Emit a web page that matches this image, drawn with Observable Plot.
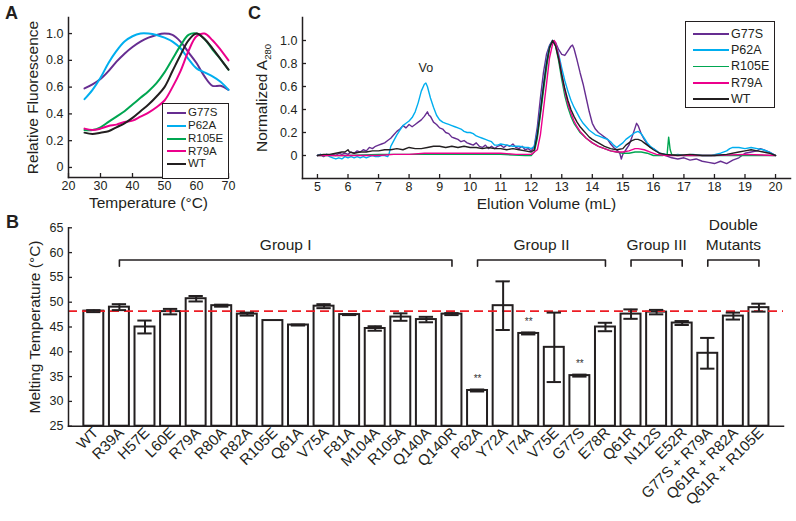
<!DOCTYPE html>
<html><head><meta charset="utf-8">
<script src="https://cdn.jsdelivr.net/npm/d3@7"></script>
<script src="https://cdn.jsdelivr.net/npm/@observablehq/plot@0.6"></script>
<style>
body{margin:0;background:#fff;}
#fig{position:relative;width:796px;height:521px;font-family:"Liberation Sans",Arial,Helvetica,sans-serif;color:#231f20;overflow:hidden;background:#fff;}
.panel-letter{position:absolute;font-weight:bold;font-size:18px;line-height:18px;}
.legend{position:absolute;border:1.5px solid #231f20;background:#fff;box-sizing:border-box;}
.legend .sw{position:absolute;}
.legend .tx{position:absolute;line-height:1;white-space:nowrap;}
</style>
</head><body>
<div id="fig"></div>
<script>
// ---------------- Panel A data (thermal shift curves) ----------------
const seriesNames = ["G77S","P62A","R105E","R79A","WT"];
const seriesColors = ["#662d91","#00aeef","#00a651","#ec008c","#231f20"];
const tempA = [25,27.5,30,32.5,35,37.5,40,42.5,45,47.5,50,52.5,55,57.5,60,62.5,65,67.5,70];
const fluorG77S = [0.59,0.62,0.66,0.72,0.79,0.85,0.90,0.94,0.97,0.99,1.00,0.99,0.94,0.86,0.78,0.68,0.61,0.61,0.58];
const fluorP62A = [0.51,0.58,0.67,0.78,0.87,0.94,0.98,1.00,1.00,0.99,0.97,0.94,0.89,0.81,0.74,0.71,0.68,0.64,0.58];
const fluorR105E = [0.28,0.28,0.30,0.34,0.38,0.42,0.47,0.52,0.57,0.63,0.71,0.81,0.91,0.99,1.00,0.96,0.88,0.81,0.73];
const fluorR79A = [0.29,0.28,0.29,0.31,0.32,0.34,0.35,0.38,0.41,0.45,0.50,0.60,0.72,0.87,0.98,1.00,0.95,0.88,0.80];
const fluorWT = [0.26,0.25,0.26,0.27,0.30,0.33,0.37,0.42,0.47,0.53,0.60,0.72,0.84,0.95,1.00,0.96,0.89,0.81,0.73];
const fluorA = [fluorG77S,fluorP62A,fluorR105E,fluorR79A,fluorWT];
const xTicksA = [20,30,40,50,60,70];
const yTicksA = [0,0.2,0.4,0.6,0.8,1.0];

// ---------------- Panel C data (size exclusion, [mL, normalized A280]) ----------------
const secG77S = [[5.0,0.00],[5.1,0.01],[5.2,-0.01],[5.3,0.01],[5.4,0.00],[5.5,0.01],[5.6,0.00],[5.7,0.02],[5.8,0.01],[5.9,0.02],[6.0,0.01],[6.1,0.03],[6.2,0.02],[6.3,0.04],[6.4,0.03],[6.5,0.05],[6.6,0.04],[6.7,0.07],[6.8,0.06],[6.9,0.08],[7.0,0.09],[7.1,0.10],[7.2,0.11],[7.3,0.13],[7.4,0.15],[7.5,0.18],[7.6,0.21],[7.7,0.23],[7.8,0.26],[7.9,0.24],[8.0,0.27],[8.1,0.25],[8.2,0.27],[8.3,0.29],[8.4,0.31],[8.5,0.34],[8.6,0.38],[8.65,0.35],[8.7,0.34],[8.8,0.29],[8.9,0.27],[9.0,0.24],[9.1,0.23],[9.2,0.20],[9.3,0.19],[9.4,0.16],[9.5,0.15],[9.6,0.14],[9.7,0.12],[9.8,0.13],[9.9,0.11],[10.0,0.10],[10.1,0.09],[10.2,0.11],[10.3,0.08],[10.4,0.07],[10.5,0.09],[10.6,0.06],[10.7,0.08],[10.8,0.06],[10.9,0.08],[11.0,0.09],[11.1,0.07],[11.2,0.09],[11.3,0.08],[11.4,0.10],[11.5,0.07],[11.6,0.06],[11.7,0.08],[11.8,0.05],[11.9,0.06],[12.0,0.04],[12.1,0.08],[12.2,0.25],[12.3,0.50],[12.4,0.72],[12.5,0.88],[12.6,0.96],[12.7,1.00],[12.8,0.98],[12.9,0.92],[13.0,0.88],[13.1,0.87],[13.2,0.91],[13.3,0.95],[13.35,0.96],[13.4,0.93],[13.5,0.83],[13.6,0.72],[13.7,0.62],[13.8,0.50],[13.9,0.38],[14.0,0.28],[14.1,0.23],[14.2,0.20],[14.3,0.18],[14.4,0.16],[14.5,0.14],[14.6,0.10],[14.7,0.07],[14.8,0.05],[14.9,0.02],[14.95,-0.03],[15.0,0.01],[15.1,0.05],[15.2,0.09],[15.3,0.16],[15.4,0.24],[15.45,0.28],[15.5,0.26],[15.6,0.19],[15.7,0.14],[15.8,0.10],[15.9,0.07],[16.0,0.06],[16.1,0.04],[16.2,0.02],[16.4,0.00],[16.6,-0.02],[16.8,-0.03],[17.0,-0.02],[17.2,-0.04],[17.4,-0.03],[17.6,-0.05],[17.8,-0.06],[18.0,-0.07],[18.2,-0.05],[18.4,-0.07],[18.6,-0.04],[18.8,-0.02],[19.0,0.02],[19.2,0.03],[19.4,0.04],[19.5,0.06],[19.6,0.05],[19.8,0.03],[20.0,0.00]];
const secP62A = [[5.0,0.00],[5.1,0.01],[5.2,0.00],[5.3,0.01],[5.4,-0.01],[5.5,-0.02],[5.6,-0.03],[5.7,-0.02],[5.8,-0.03],[5.9,-0.01],[6.0,-0.02],[6.1,-0.01],[6.2,-0.02],[6.3,-0.01],[6.4,-0.02],[6.5,-0.01],[6.6,-0.02],[6.7,-0.01],[6.8,0.00],[6.9,-0.01],[7.0,-0.01],[7.1,0.00],[7.2,0.00],[7.3,-0.01],[7.35,0.02],[7.4,0.08],[7.5,0.13],[7.6,0.18],[7.7,0.22],[7.8,0.26],[7.9,0.28],[8.0,0.30],[8.1,0.33],[8.2,0.38],[8.3,0.46],[8.4,0.56],[8.5,0.62],[8.55,0.63],[8.6,0.60],[8.7,0.50],[8.8,0.42],[8.9,0.35],[9.0,0.31],[9.1,0.29],[9.2,0.28],[9.3,0.27],[9.4,0.26],[9.5,0.25],[9.6,0.24],[9.7,0.23],[9.8,0.21],[9.9,0.20],[10.0,0.20],[10.1,0.19],[10.2,0.17],[10.3,0.16],[10.4,0.15],[10.5,0.14],[10.6,0.13],[10.7,0.12],[10.8,0.09],[10.9,0.09],[11.0,0.10],[11.2,0.09],[11.4,0.08],[11.6,0.08],[11.8,0.07],[11.9,0.07],[12.0,0.06],[12.1,0.08],[12.2,0.20],[12.3,0.40],[12.4,0.62],[12.5,0.82],[12.6,0.95],[12.7,1.00],[12.8,0.97],[12.9,0.88],[13.0,0.76],[13.1,0.65],[13.2,0.56],[13.3,0.48],[13.4,0.42],[13.5,0.37],[13.6,0.32],[13.7,0.28],[13.8,0.25],[13.9,0.22],[14.0,0.20],[14.1,0.18],[14.2,0.17],[14.3,0.16],[14.4,0.15],[14.5,0.14],[14.6,0.12],[14.7,0.09],[14.8,0.07],[14.9,0.09],[15.0,0.11],[15.1,0.14],[15.2,0.16],[15.3,0.18],[15.4,0.20],[15.5,0.21],[15.6,0.19],[15.7,0.15],[15.8,0.11],[15.9,0.08],[16.0,0.06],[16.1,0.04],[16.2,0.02],[16.4,0.01],[16.6,0.00],[16.8,0.01],[17.0,0.00],[17.3,0.01],[17.6,0.00],[17.9,0.00],[18.2,0.02],[18.4,0.04],[18.5,0.06],[18.6,0.07],[18.8,0.07],[19.0,0.06],[19.2,0.07],[19.4,0.06],[19.6,0.05],[19.8,0.03],[20.0,0.00]];
const secR105E = [[5.0,0.00],[6.0,0.00],[7.0,0.01],[8.0,0.01],[9.0,0.01],[10.0,0.01],[11.0,0.01],[11.8,0.00],[12.0,0.00],[12.1,0.03],[12.2,0.15],[12.3,0.35],[12.4,0.56],[12.5,0.76],[12.6,0.93],[12.7,1.00],[12.8,0.95],[12.9,0.82],[13.0,0.66],[13.1,0.52],[13.2,0.42],[13.3,0.34],[13.4,0.28],[13.5,0.24],[13.6,0.20],[13.8,0.15],[14.0,0.11],[14.2,0.08],[14.4,0.06],[14.6,0.04],[14.8,0.03],[15.0,0.02],[15.2,0.02],[15.4,0.03],[15.6,0.03],[15.8,0.02],[16.0,0.00],[16.3,0.00],[16.45,0.01],[16.5,0.16],[16.55,0.05],[16.6,0.01],[17.0,0.00],[18.0,0.00],[19.0,0.00],[20.0,0.00]];
const secR79A = [[5.0,0.00],[6.0,0.00],[7.0,0.00],[7.5,0.01],[8.0,0.01],[8.5,0.02],[9.0,0.02],[9.5,0.02],[10.0,0.02],[10.5,0.02],[11.0,0.02],[11.5,0.01],[12.0,0.01],[12.2,0.05],[12.3,0.18],[12.4,0.40],[12.5,0.62],[12.6,0.85],[12.7,0.97],[12.75,1.00],[12.8,0.98],[12.9,0.86],[13.0,0.70],[13.1,0.56],[13.2,0.45],[13.3,0.37],[13.4,0.30],[13.5,0.25],[13.6,0.21],[13.7,0.18],[13.8,0.15],[14.0,0.11],[14.2,0.08],[14.4,0.06],[14.6,0.04],[14.8,0.03],[15.0,0.03],[15.2,0.04],[15.4,0.06],[15.5,0.06],[15.7,0.05],[15.9,0.03],[16.1,0.01],[16.4,0.00],[17.0,0.00],[18.0,0.00],[19.0,0.01],[20.0,0.00]];
const secWT = [[5.0,0.00],[5.2,0.01],[5.4,0.01],[5.6,0.02],[5.8,0.03],[5.9,0.03],[6.0,0.05],[6.05,0.03],[6.2,0.02],[6.4,0.03],[6.6,0.03],[6.8,0.04],[7.0,0.04],[7.2,0.05],[7.4,0.05],[7.6,0.06],[7.8,0.05],[8.0,0.07],[8.2,0.06],[8.4,0.06],[8.6,0.07],[8.8,0.08],[9.0,0.08],[9.2,0.07],[9.4,0.08],[9.6,0.07],[9.8,0.08],[10.0,0.07],[10.2,0.07],[10.4,0.06],[10.6,0.07],[10.8,0.06],[11.0,0.06],[11.2,0.05],[11.4,0.06],[11.6,0.05],[11.8,0.04],[12.0,0.03],[12.1,0.05],[12.2,0.18],[12.3,0.38],[12.4,0.60],[12.5,0.80],[12.6,0.94],[12.7,1.00],[12.8,0.95],[12.9,0.84],[13.0,0.70],[13.1,0.58],[13.2,0.48],[13.3,0.40],[13.4,0.34],[13.5,0.29],[13.6,0.25],[13.7,0.22],[13.8,0.19],[13.9,0.16],[14.0,0.14],[14.2,0.11],[14.4,0.08],[14.6,0.06],[14.8,0.05],[15.0,0.06],[15.1,0.09],[15.2,0.11],[15.3,0.13],[15.4,0.14],[15.5,0.14],[15.6,0.13],[15.7,0.11],[15.8,0.09],[16.0,0.05],[16.2,0.02],[16.4,0.01],[16.8,0.00],[17.2,0.01],[17.6,0.00],[18.0,0.00],[18.4,0.01],[18.8,0.03],[19.0,0.04],[19.2,0.05],[19.4,0.04],[19.6,0.03],[19.8,0.02],[20.0,0.00]];
const secC = [secG77S,secP62A,secR105E,secR79A,secWT];
const xTicksC = [5,6,7,8,9,10,11,12,13,14,15,16,17,18,19,20];
const yTicksC = [0,0.2,0.4,0.6,0.8,1.0];
const voidLabel = "Vo";

// ---------------- Panel B data (melting temperatures) ----------------
const mutants = ["WT","R39A","H57E","L60E","R79A","R80A","R82A","R105E","Q61A","V75A","F81A","M104A","R105A","Q140A","Q140R","P62A","Y72A","I74A","V75E","G77S","E78R","Q61R","N112S","E52R","G77S + R79A","Q61R + R82A","Q61R + R105E"];
const tm = [48.2,49.0,45.0,48.1,50.7,49.3,47.6,46.3,45.4,49.2,47.5,44.7,47.0,46.5,47.6,32.2,49.3,43.7,40.9,35.2,45.0,47.6,48.0,45.8,39.7,47.2,48.9];
const tmErr = [0.2,0.6,1.3,0.55,0.55,0.2,0.3,0,0.1,0.4,0.1,0.45,0.75,0.55,0.2,0.2,4.9,0.2,7.0,0.2,0.85,0.95,0.45,0.4,3.1,0.7,0.8];
const significant = ["P62A","I74A","G77S"];
const groupLabels = ["Group I","Group II","Group III","Double\nMutants"];
const groupStart = ["R39A","P62A","Q61R","G77S + R79A"];
const groupEnd = ["Q140R","E78R","E52R","Q61R + R105E"];
const yTicksB = [25,30,35,40,45,50,55,60,65];

// ---------------- rendering ----------------
const fig = document.getElementById("fig");
const ink = "#231f20";
const font = '"Liberation Sans", Arial, Helvetica, sans-serif';
const baseStyle = {background: "transparent", fontFamily: font, color: ink, overflow: "visible"};
const fmt1 = d => d === 0 ? "0" : d.toFixed(1);
function place(el, left, top) {
  el.style.position = "absolute";
  el.style.left = left + "px";
  el.style.top = top + "px";
  fig.appendChild(el);
}
function letter(t, left, top) {
  const d = document.createElement("div");
  d.className = "panel-letter"; d.textContent = t;
  d.style.left = left + "px"; d.style.top = top + "px";
  fig.appendChild(d);
}
function legend(left, top, w, h, first, step, swX, swLen, swW, txX, fs) {
  const box = document.createElement("div");
  box.className = "legend";
  Object.assign(box.style, {left: left + "px", top: top + "px", width: w + "px", height: h + "px"});
  seriesNames.forEach((name, i) => {
    const cy = first + i * step;
    const sw = document.createElement("div");
    sw.className = "sw";
    Object.assign(sw.style, {left: swX + "px", top: (cy - swW / 2) + "px", width: swLen + "px", height: swW + "px", background: seriesColors[i]});
    const tx = document.createElement("div");
    tx.className = "tx"; tx.textContent = name;
    Object.assign(tx.style, {left: txX + "px", top: (cy - fs / 2) + "px", fontSize: fs + "px"});
    box.appendChild(sw); box.appendChild(tx);
  });
  fig.appendChild(box);
}
// inward tick marks (labels are drawn by separate text marks)
const ticksY = t => Plot.axisY({ticks: t, tickSize: -4, tickFormat: () => "", label: null, strokeWidth: 1.3});
const ticksX = t => Plot.axisX({ticks: t, tickSize: -4, tickFormat: () => "", label: null, strokeWidth: 1.3});
const labelsY = (t, f, fs) => Plot.text(t, {y: d => d, frameAnchor: "left", text: f, textAnchor: "end", dx: -5, fontSize: fs, fill: ink});
const labelsX = (t, f, fs) => Plot.text(t, {x: d => d, frameAnchor: "bottom", text: f, lineAnchor: "top", dy: 4, fontSize: fs, fill: ink});

// Panel A
const dataA = seriesNames.flatMap((name, k) => tempA.map((t, j) => ({name, t, v: fluorA[k][j]})));
const plotA = Plot.plot({
  width: 240, height: 215, marginLeft: 68, marginRight: 12, marginTop: 17, marginBottom: 38,
  style: baseStyle,
  x: {domain: [20, 70]},
  y: {domain: [-0.075, 1.12]},
  color: {domain: seriesNames, range: seriesColors},
  marks: [
    Plot.frame({anchor: "left", stroke: ink, strokeWidth: 1.5}),
    Plot.frame({anchor: "bottom", stroke: ink, strokeWidth: 1.5}),
    ticksY(yTicksA), ticksX(xTicksA),
    labelsY(yTicksA, fmt1, 12.5), labelsX(xTicksA, d => String(d), 12.5),
    Plot.line(dataA, {x: "t", y: "v", stroke: "name", strokeWidth: 2, curve: "catmull-rom"}),
    Plot.text(["Temperature (°C)"], {frameAnchor: "bottom", dy: 30, fontSize: 15.5, fill: ink}),
    Plot.text(["Relative Fluorescence"], {frameAnchor: "left", textAnchor: "middle", dx: -35, rotate: -90, fontSize: 15.5, fill: ink})
  ]
});
place(plotA, 0, 0);

// Panel C
const dataC = seriesNames.flatMap((name, k) => secC[k].map(([ml, v]) => ({name, ml, v})));
const voPeak = secP62A.filter(([ml]) => ml > 7 && ml < 10).reduce((a, b) => (b[1] > a[1] ? b : a));
const plotC = Plot.plot({
  width: 556, height: 215, marginLeft: 62, marginRight: 6, marginTop: 17, marginBottom: 37,
  style: baseStyle,
  x: {domain: [4.51, 20.49]},
  y: {domain: [-0.2, 1.2]},
  color: {domain: seriesNames, range: seriesColors},
  marks: [
    Plot.frame({anchor: "left", stroke: ink, strokeWidth: 1.5}),
    Plot.frame({anchor: "bottom", stroke: ink, strokeWidth: 1.5}),
    ticksY(yTicksC), ticksX(xTicksC),
    labelsY(yTicksC, fmt1, 12.5), labelsX(xTicksC, d => String(d), 12.5),
    Plot.line(dataC, {x: "ml", y: "v", stroke: "name", z: "name", strokeWidth: 1.4}),
    Plot.text([voidLabel], {x: voPeak[0], y: voPeak[1], dy: -15, fontSize: 12.5, fill: ink}),
    Plot.text(["Elution Volume (mL)"], {frameAnchor: "bottom", dy: 30, fontSize: 15.5, fill: ink}),
    Plot.text(["Normalized A"], {frameAnchor: "left", textAnchor: "middle", dx: -40, rotate: -90, fontSize: 15.5, fill: ink})
  ]
});
plotC.querySelectorAll("text").forEach(t => {
  if (t.textContent === "Normalized A") {
    const ts = document.createElementNS("http://www.w3.org/2000/svg", "tspan");
    ts.textContent = "280"; ts.setAttribute("font-size", "9.5"); ts.setAttribute("dy", "4");
    t.appendChild(ts);
  }
});
place(plotC, 240, 0);

// Panel B
const idx = name => mutants.indexOf(name);
const bars = mutants.map((name, i) => ({name, i, v: tm[i], e: tmErr[i]}));
const errs = bars.filter(d => d.e > 0);
const stars = bars.filter(d => significant.includes(d.name));
const groups = groupLabels.map((label, k) => ({label, s: idx(groupStart[k]), e: idx(groupEnd[k])}));
const bracketTop = 58.5, bracketLeg = 57.25;
const bracketPts = groups.flatMap(g => [
  {g: g.label, x: g.s, y: bracketLeg}, {g: g.label, x: g.s, y: bracketTop},
  {g: g.label, x: g.e, y: bracketTop}, {g: g.label, x: g.e, y: bracketLeg}]);
const halfBar = 0.39, halfCap = 0.28;
const plotB = Plot.plot({
  width: 796, height: 311, marginLeft: 68, marginRight: 13, marginTop: 17.3, marginBottom: 95.3,
  style: baseStyle,
  x: {domain: [-0.99, 26.96], axis: null},
  y: {domain: [25, 65]},
  marks: [
    Plot.rectY(bars, {x1: d => d.i - halfBar, x2: d => d.i + halfBar, y1: yTicksB[0], y2: "v", fill: "white", stroke: ink, strokeWidth: 2}),
    Plot.ruleY([tm[0]], {stroke: "#ed1c24", strokeWidth: 1.8, strokeDasharray: "9,5"}),
    Plot.ruleX(errs, {x: "i", y1: d => d.v - d.e, y2: d => d.v + d.e, stroke: ink, strokeWidth: 2}),
    Plot.ruleY(errs, {y: d => d.v + d.e, x1: d => d.i - halfCap, x2: d => d.i + halfCap, stroke: ink, strokeWidth: 2}),
    Plot.ruleY(errs, {y: d => d.v - d.e, x1: d => d.i - halfCap, x2: d => d.i + halfCap, stroke: ink, strokeWidth: 2}),
    Plot.text(stars, {x: "i", y: "v", text: () => "**", dy: -12, fontSize: 10, fill: "#333"}),
    Plot.line(bracketPts, {x: "x", y: "y", z: "g", stroke: ink, strokeWidth: 1.6}),
    Plot.text(groups, {x: d => (d.s + d.e) / 2, y: 60.6, text: "label", lineAnchor: "bottom", lineHeight: 1.25, fontSize: 15.5, fill: ink}),
    Plot.frame({anchor: "left", stroke: ink, strokeWidth: 1.5}),
    Plot.frame({anchor: "bottom", stroke: ink, strokeWidth: 1.5}),
    ticksY(yTicksB),
    labelsY(yTicksB, d => String(d), 12.5),
    Plot.text(bars, {x: "i", frameAnchor: "bottom", text: "name", rotate: -45, textAnchor: "end", lineAnchor: "middle", dx: 2, dy: 4, fontSize: 15, fill: ink}),
    Plot.text(["Melting Temperature (°C)"], {frameAnchor: "left", textAnchor: "middle", dx: -33, rotate: -90, fontSize: 15.5, fill: ink})
  ]
});
place(plotB, 0, 210);

// legends and panel letters
legend(162, 103, 67, 76, 9, 12.75, 4, 19, 2, 25, 11.5);
legend(685, 21, 90, 87, 12, 16.25, 7, 36, 1.6, 45, 12.5);
letter("A", 5, 4);
letter("C", 248, 4);
letter("B", 6, 213);
</script>
</body></html>
